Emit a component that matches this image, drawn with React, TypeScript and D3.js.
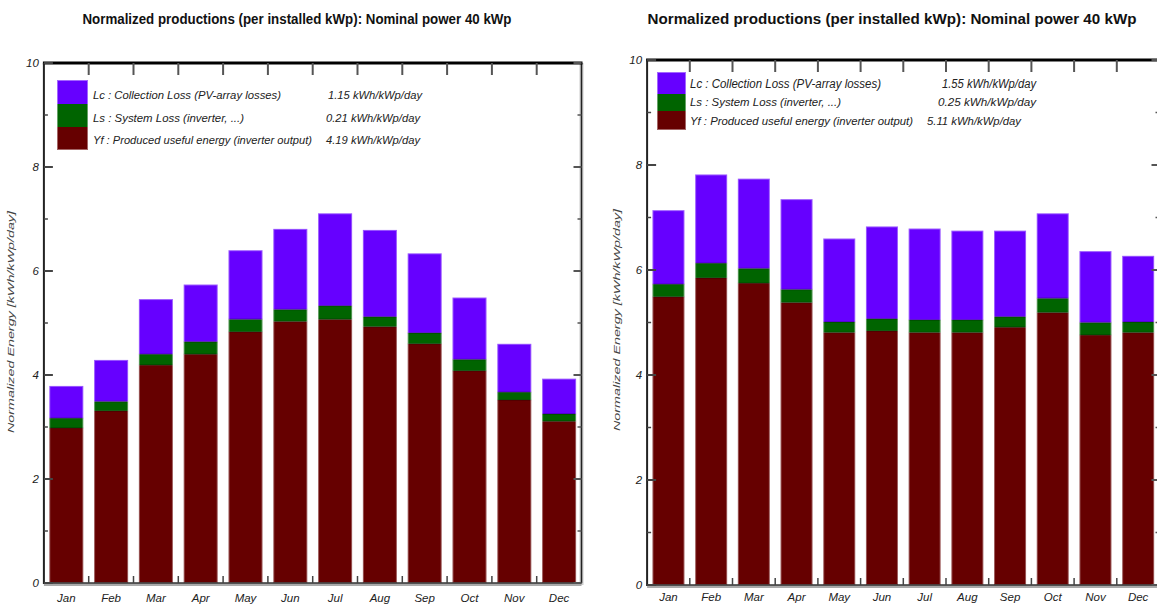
import React from "react";
import * as d3 from "d3";

const months = ["Jan", "Feb", "Mar", "Apr", "May", "Jun", "Jul", "Aug", "Sep", "Oct", "Nov", "Dec"];
const yTicks = [0, 2, 4, 6, 8, 10];

// Left chart (kWh/kWp/day)
const leftYf = [2.98, 3.31, 4.19, 4.4, 4.83, 5.03, 5.07, 4.93, 4.6, 4.08, 3.52, 3.11];
const leftLs = [0.19, 0.18, 0.21, 0.24, 0.24, 0.23, 0.26, 0.19, 0.21, 0.22, 0.15, 0.14];
const leftLc = [0.62, 0.8, 1.06, 1.1, 1.33, 1.55, 1.78, 1.67, 1.53, 1.19, 0.93, 0.68];
const leftLegendValues = ["1.15 kWh/kWp/day", "0.21 kWh/kWp/day", "4.19 kWh/kWp/day"];

// Right chart (kWh/kWp/day)
const rightYf = [5.49, 5.85, 5.75, 5.38, 4.81, 4.84, 4.81, 4.81, 4.91, 5.19, 4.76, 4.81];
const rightLs = [0.24, 0.28, 0.28, 0.25, 0.2, 0.23, 0.24, 0.24, 0.2, 0.27, 0.24, 0.2];
const rightLc = [1.41, 1.69, 1.71, 1.72, 1.59, 1.76, 1.74, 1.7, 1.64, 1.62, 1.36, 1.26];
const rightLegendValues = ["1.55 kWh/kWp/day", "0.25 kWh/kWp/day", "5.11 kWh/kWp/day"];

const legendLabels = [
  "Lc : Collection Loss (PV-array losses)",
  "Ls : System Loss  (inverter, ...)",
  "Yf : Produced useful energy  (inverter output)",
];
const titleText = "Normalized productions (per installed kWp):  Nominal power 40 kWp";
const yAxisTitle = "Normalized Energy  [kWh/kWp/day]";

const seriesKeys = ["Yf", "Ls", "Lc"];
const colors: Record<string, string> = { Yf: "#660000", Ls: "#006400", Lc: "#6600ff" };
const legendColors = ["#6600ff", "#006400", "#660000"];

const FONT = "'Liberation Sans Narrow', 'Liberation Sans', Arial, sans-serif";

type Layout = {
  x0: number; x1: number; yTop: number; y0: number; pad: number;
  titleX: number; titleY: number; titleLen: number; titleSize: number;
  yTitleX: number; yTitleY: number;
  monthY: number;
  legBoxX: number; legBoxW: number; legRows: { y: number; h: number }[];
  legTextX: number; legBase: number[]; legLens: number[]; legSizes: number[];
  valX: number[]; valLens: number[];
};

function Panel({ yf, ls, lc, values, L }: { yf: number[]; ls: number[]; lc: number[]; values: string[]; L: Layout }) {
  const rows = months.map((m, i) => ({ month: m, Yf: yf[i], Ls: ls[i], Lc: lc[i] }));
  const stack = d3.stack<any>().keys(seriesKeys)(rows);
  const x = d3.scaleBand().domain(months).range([L.x0, L.x1]).paddingInner(L.pad).paddingOuter(L.pad / 2);
  const y = d3.scaleLinear().domain([0, 10]).range([L.y0, L.yTop]);
  const step = x.step();
  const bounds = d3.range(1, months.length).map((i) => L.x0 + i * step);
  const minor = [1, 3, 5, 7, 9];

  return (
    <g>
      <text x={L.titleX} y={L.titleY} textAnchor="middle" fontFamily={FONT} fontWeight="bold" fontSize={L.titleSize}
        textLength={L.titleLen} lengthAdjust="spacingAndGlyphs" fill="#111">{titleText}</text>

      {/* bars */}
      {stack.map((s) => (
        <g key={s.key}>
          {s.map((d: any, i: number) => (
            <rect key={i} x={x(months[i])} width={x.bandwidth()} y={y(d[1])} height={y(d[0]) - y(d[1])} fill={colors[s.key]} />
          ))}
        </g>
      ))}
      {/* dark separators between segments */}
      {stack.slice(0, 2).map((s) => (
        <g key={"sep" + s.key}>
          {s.map((d: any, i: number) => (
            <line key={i} x1={x(months[i])} x2={(x(months[i]) as number) + x.bandwidth()} y1={y(d[1])} y2={y(d[1])}
              stroke="#000" strokeOpacity={0.25} strokeWidth={1.5} />
          ))}
        </g>
      ))}
      {/* soft edges */}
      {stack[2].map((d: any, i: number) => (
        <rect key={"o" + i} x={x(months[i])} width={x.bandwidth()} y={y(d[1])} height={y(0) - y(d[1])}
          fill="none" stroke="#fff" strokeOpacity={0.35} strokeWidth={2} />
      ))}

      {/* frame */}
      <line x1={L.x1} x2={L.x1} y1={L.yTop} y2={L.y0 + 2} stroke="#ccc" strokeWidth={4} />
      <line x1={L.x1} x2={L.x1} y1={L.yTop} y2={L.y0} stroke="#222" strokeWidth={1.5} />
      <line x1={L.x0} x2={L.x1} y1={L.y0 + 1.5} y2={L.y0 + 1.5} stroke="#aaa" strokeWidth={3} />
      <line x1={L.x0} x2={L.x1} y1={L.y0} y2={L.y0} stroke="#333" strokeWidth={1.5} />
      <line x1={L.x0 - 1} x2={L.x1 + 1} y1={L.yTop} y2={L.yTop} stroke="#000" strokeWidth={3} />
      <line x1={L.x0} x2={L.x0} y1={L.yTop} y2={L.y0 + 1} stroke="#222" strokeWidth={2} />

      {/* x boundary ticks */}
      {bounds.map((bx, i) => (
        <g key={"bt" + i}>
          <line x1={bx} x2={bx} y1={L.yTop} y2={L.yTop + 12} stroke="#555" strokeWidth={2} />
          <line x1={bx} x2={bx} y1={L.y0} y2={L.y0 - 7} stroke="#444" strokeWidth={1.5} />
        </g>
      ))}

      {/* y ticks */}
      {yTicks.map((t) => (
        <g key={"yt" + t}>
          <line x1={L.x0} x2={L.x0 + 9} y1={y(t)} y2={y(t)} stroke="#444" strokeWidth={2} />
          <line x1={L.x1} x2={L.x1 - 8} y1={y(t)} y2={y(t)} stroke="#555" strokeWidth={2} />
          <text x={L.x0 - 5} y={y(t) + 4} textAnchor="end" fontFamily={FONT} fontStyle="italic" fontSize={11.5} fill="#222">{t}</text>
        </g>
      ))}
      {minor.map((t) => (
        <g key={"mt" + t}>
          <line x1={L.x0} x2={L.x0 + 4} y1={y(t)} y2={y(t)} stroke="#444" strokeWidth={1.5} />
          <line x1={L.x1} x2={L.x1 - 4} y1={y(t)} y2={y(t)} stroke="#555" strokeWidth={1.5} />
        </g>
      ))}

      {/* month labels */}
      {months.map((m) => (
        <text key={"m" + m} x={(x(m) as number) + x.bandwidth() / 2} y={L.monthY} textAnchor="middle" fontFamily={FONT}
          fontStyle="italic" fontSize={11.5} fill="#222">{m}</text>
      ))}

      {/* y axis title */}
      <text transform={`translate(${L.yTitleX},${L.yTitleY}) rotate(-90)`} textAnchor="middle" fontFamily={FONT}
        fontStyle="italic" fontSize={9.5} fill="#444" textLength={222} lengthAdjust="spacingAndGlyphs">{yAxisTitle}</text>

      {/* legend */}
      {L.legRows.map((r, i) => (
        <rect key={"lb" + i} x={L.legBoxX} y={r.y} width={L.legBoxW} height={r.h} fill={legendColors[i]} />
      ))}
      <rect x={L.legBoxX} y={L.legRows[0].y} width={L.legBoxW}
        height={L.legRows[2].y + L.legRows[2].h - L.legRows[0].y} fill="none" stroke="#fff" strokeOpacity={0.4} strokeWidth={2} />
      {legendLabels.map((lab, i) => (
        <text key={"ll" + i} x={L.legTextX} y={L.legBase[i]} fontFamily={FONT} fontStyle="italic" fontSize={L.legSizes[i]} fill="#222"
          textLength={L.legLens[i]} lengthAdjust="spacingAndGlyphs">{lab}</text>
      ))}
      {values.map((v, i) => (
        <text key={"lv" + i} x={L.valX[i]} y={L.legBase[i]} fontFamily={FONT} fontStyle="italic" fontSize={L.legSizes[i]} fill="#222"
          textLength={L.valLens[i]} lengthAdjust="spacingAndGlyphs">{v}</text>
      ))}
    </g>
  );
}

const leftLayout: Layout = {
  x0: 43.9, x1: 581.5, yTop: 63, y0: 583, pad: 0.24,
  titleX: 297, titleY: 24, titleLen: 429, titleSize: 14.5,
  yTitleX: 14, yTitleY: 322, monthY: 602,
  legBoxX: 57, legBoxW: 31,
  legRows: [{ y: 80, h: 24 }, { y: 104, h: 23 }, { y: 127, h: 23 }],
  legTextX: 93, legBase: [99, 122, 144], legLens: [188, 151, 219], legSizes: [11, 11.5, 11.5],
  valX: [328, 326, 326], valLens: [94, 94, 94],
};

const rightLayout: Layout = {
  x0: 647.1, x1: 1159.5, yTop: 60, y0: 585, pad: 0.25,
  titleX: 892, titleY: 24, titleLen: 489, titleSize: 15.5,
  yTitleX: 620, yTitleY: 320, monthY: 601,
  legBoxX: 657, legBoxW: 29,
  legRows: [{ y: 72, h: 22 }, { y: 94, h: 17 }, { y: 111, h: 19 }],
  legTextX: 690, legBase: [88, 106, 125], legLens: [191, 151, 223], legSizes: [12, 11.5, 11.5],
  valX: [942, 938, 927], valLens: [94, 98, 94],
};

export default function App() {
  return (
    <svg width={1157} height={605} style={{ position: "absolute", left: 0, top: 0, background: "#fff" }}>
      <rect width={1157} height={605} fill="#fff" />
      <Panel yf={leftYf} ls={leftLs} lc={leftLc} values={leftLegendValues} L={leftLayout} />
      <Panel yf={rightYf} ls={rightLs} lc={rightLc} values={rightLegendValues} L={rightLayout} />
    </svg>
  );
}
